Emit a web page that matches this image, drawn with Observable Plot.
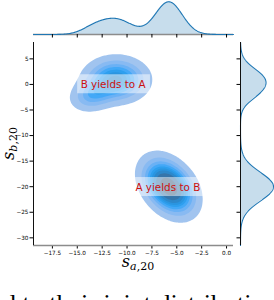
<!DOCTYPE html>
<html><head><meta charset="utf-8">
<script src="https://cdn.jsdelivr.net/npm/d3@7"></script>
<script src="https://cdn.jsdelivr.net/npm/@observablehq/plot@0.6"></script>
<style>
body{margin:0;background:#fff;overflow:hidden}
#wrap{position:relative;width:274px;height:300px;overflow:hidden;background:#fff}
#wrap > svg{position:absolute;left:0;top:0}
</style></head><body>
<div id="wrap"></div>
<script>
// ---- data ----
const clusterNames = ["A", "B1", "B2"];
const meanX = [-5.8, -11.1, -13.4];
const meanY = [-20.0, 0.9, -2.0];
const sdX = [1.35, 1.6, 1.2];
const sdY = [2.8, 2.2, 1.7];
const corr = [-0.35, 0.0, 0.2];
const weight = [1.0, 0.55, 0.15];
const labels = ["A yields to B", "B yields to A"];
const labelX = [-5.9, -11.4];
const labelY = [-20.1, 0.0];
const xDomain = [-19.4, 0.7];
const yDomain = [-31.5, 8.2];
const xTicks = [-17.5, -15, -12.5, -10, -7.5, -5, -2.5, 0];
const yTicks = [-30, -25, -20, -15, -10, -5, 0, 5];
const captionText = "d to their joint distribution";
const nLevels = 10, thresh = 0.05;
const baseColor = "#1f77b4";

// ---- density of the mixture ----
function density(x, y) {
  let s = 0;
  for (let i = 0; i < weight.length; i++) {
    const dx = (x - meanX[i]) / sdX[i], dy = (y - meanY[i]) / sdY[i], r = corr[i];
    const q = (dx*dx - 2*r*dx*dy + dy*dy) / (1 - r*r);
    s += weight[i] * Math.exp(-q/2) / (2*Math.PI*sdX[i]*sdY[i]*Math.sqrt(1 - r*r));
  }
  return s;
}
const norm1 = (v, m, s) => Math.exp(-0.5*((v-m)/s)**2) / (s*Math.sqrt(2*Math.PI));
const margX = x => d3.sum(weight, (w, i) => w * norm1(x, meanX[i], sdX[i]));
const margY = y => d3.sum(weight, (w, i) => w * norm1(y, meanY[i], sdY[i]));

// ---- iso-proportion levels (seaborn style) ----
const vals = [];
for (let i = 0; i < 300; i++) for (let j = 0; j < 300; j++) vals.push(density(-30 + 40*i/299, -45 + 65*j/299));
vals.sort((a, b) => b - a);
const total = d3.sum(vals);
let cum = 0; const cums = vals.map(v => (cum += v) / total);
const isoprop = d3.range(nLevels).map(i => thresh + (1 - thresh) * i / (nLevels - 1));
const levels = isoprop.map(q => vals[Math.min(d3.bisectLeft(cums, 1 - q), vals.length - 1)]);

// ---- HSLuv colormap from base colour ----
const M = [[3.240969941904521,-1.537383177570093,-0.498610760293],[-0.96924363628087,1.87596750150772,0.041555057407175],[0.055630079696993,-0.20397695888897,1.056971514242878]];
const MINV = [[0.41239079926595,0.35758433938387,0.18048078840183],[0.21263900587151,0.71516867876775,0.072192315360733],[0.019330818715591,0.11919477979462,0.95053215224966]];
const REF_U = 0.19783000664283, REF_V = 0.46831999493879, KAPPA = 903.2962962, EPS = 0.0088564516;
function bounds(L) {
  const sub1 = Math.pow(L + 16, 3) / 1560896;
  const sub2 = sub1 > EPS ? sub1 : L / KAPPA;
  const res = [];
  for (const [m1, m2, m3] of M) for (const t of [0, 1]) {
    const top1 = (284517*m1 - 94839*m3) * sub2;
    const top2 = (838422*m3 + 769860*m2 + 731718*m1) * L * sub2 - 769860*t*L;
    const bottom = (632260*m3 - 126452*m2) * sub2 + 126452*t;
    res.push([top1/bottom, top2/bottom]);
  }
  return res;
}
function maxChroma(L, H) {
  const h = H/180*Math.PI; let min = Infinity;
  for (const [s, b] of bounds(L)) { const len = b / (Math.sin(h) - s*Math.cos(h)); if (len >= 0) min = Math.min(min, len); }
  return min;
}
function hsluvToRgb(H, S, L) {
  if (L > 99.9999999) return [1,1,1]; if (L < 1e-8) return [0,0,0];
  const C = maxChroma(L, H) / 100 * S;
  const hr = H/180*Math.PI, U = Math.cos(hr)*C, V = Math.sin(hr)*C;
  const varU = U/(13*L) + REF_U, varV = V/(13*L) + REF_V;
  const Y = L <= 8 ? L / KAPPA : Math.pow((L+16)/116, 3);
  const X = -(9*Y*varU) / ((varU - 4)*varV - varU*varV);
  const Z = (9*Y - 15*varV*Y - varV*X) / (3*varV);
  return M.map(r => { const c = r[0]*X + r[1]*Y + r[2]*Z; const v = c <= 0.0031308 ? 12.92*c : 1.055*Math.pow(c, 1/2.4) - 0.055; return Math.max(0, Math.min(1, v)); });
}
function rgbToHsluv(r, g, b) {
  const lin = [r,g,b].map(c => c > 0.04045 ? Math.pow((c+0.055)/1.055, 2.4) : c/12.92);
  const [X, Y, Z] = MINV.map(row => row[0]*lin[0] + row[1]*lin[1] + row[2]*lin[2]);
  const L = Y <= EPS ? Y*KAPPA : 116*Math.cbrt(Y) - 16;
  const d = X + 15*Y + 3*Z;
  const U = 13*L*(4*X/d - REF_U), V = 13*L*(9*Y/d - REF_V);
  let H = Math.atan2(V, U)*180/Math.PI; if (H < 0) H += 360;
  return [H, Math.hypot(U, V) / maxChroma(L, H) * 100, L];
}
const bc = d3.rgb(baseColor);
const [bh, bs] = rgbToHsluv(bc.r/255, bc.g/255, bc.b/255);
const nx = Math.floor(1.15*256);
const ramp = d3.range(256).map(j => {
  const xx = -1 + 2*j/(nx - 1);
  const [r, g, b] = hsluvToRgb(bh, bs*Math.cos(xx), 35 + 45*j/255);
  return d3.rgb(r*255, g*255, b*255).formatHex();
});
const cmapColors = ramp.slice().reverse();
const cmap = t => cmapColors[Math.max(0, Math.min(255, Math.floor(t*256)))];
const bandLevels = levels.slice(0, nLevels - 1);
const bandColors = bandLevels.map((l, i) => cmap(((l + levels[i+1]) / 2 - levels[0]) / (levels[nLevels-1] - levels[0])));

// ---- main plot ----
const main = Plot.plot({
  width: 274, height: 300,
  marginLeft: 33, marginRight: 41, marginTop: 42, marginBottom: 55,
  x: {domain: xDomain},
  y: {domain: yDomain},
  color: {type: "ordinal", domain: bandLevels, range: bandColors},
  style: {background: "transparent", fontFamily: "DejaVu Sans", fontSize: "5.7px", color: "#000"},
  marks: [
    Plot.contour({value: density, fill: "value", stroke: "none", x1: xDomain[0], x2: xDomain[1], y1: yDomain[0], y2: yDomain[1], thresholds: bandLevels}),
    Plot.axisX({ticks: xTicks, tickSize: 3.5, tickPadding: 1.5, tickFormat: d3.format(".1f"), label: null}),
    Plot.axisY({ticks: yTicks, tickSize: 3.5, tickPadding: 1.5, tickFormat: d3.format("d"), label: null}),
    Plot.ruleY([yDomain[0]], {stroke: "#8c8c8c", strokeWidth: 1.3}),
    Plot.ruleX([xDomain[0]], {stroke: "#111", strokeWidth: 1}),
    Plot.text(labels, {x: (d, i) => labelX[i], y: (d, i) => labelY[i], text: d => d, fill: "#cc1010", fontSize: 10.4, fontFamily: "DejaVu Sans"})
  ]
});

// ---- top marginal ----
const xs = d3.range(401).map(i => xDomain[0] + (xDomain[1] - xDomain[0]) * i / 400);
const topMax = d3.max(xs, margX);
const topM = Plot.plot({
  width: 274, height: 40,
  marginLeft: 33, marginRight: 41, marginTop: 0, marginBottom: 6,
  x: {domain: xDomain},
  y: {domain: [0, topMax * 1.04], axis: null},
  style: {background: "transparent", color: "#000"},
  marks: [
    Plot.areaY(xs, {x: d => d, y: margX, fill: baseColor, fillOpacity: 0.25}),
    Plot.ruleY([0], {stroke: "#8c8c8c", strokeWidth: 1.3}),
    Plot.lineY(xs, {x: d => d, y: margX, stroke: baseColor, strokeWidth: 1.1}),
    Plot.axisX({ticks: xTicks, tickSize: 3.5, tickFormat: () => "", label: null})
  ]
});

// ---- right marginal ----
const ys = d3.range(401).map(i => yDomain[0] + (yDomain[1] - yDomain[0]) * i / 400);
const rightMax = d3.max(ys, margY);
const rightM = Plot.plot({
  width: 274, height: 300,
  marginLeft: 240, marginRight: 0, marginTop: 42, marginBottom: 55,
  x: {domain: [0, rightMax * 1.03], axis: null},
  y: {domain: yDomain},
  style: {background: "transparent", color: "#000"},
  marks: [
    Plot.areaX(ys, {y: d => d, x: margY, fill: baseColor, fillOpacity: 0.25}),
    Plot.lineX(ys, {y: d => d, x: margY, stroke: baseColor, strokeWidth: 1.1}),
    Plot.ruleX([0], {stroke: "#111", strokeWidth: 1}),
    Plot.axisY({ticks: yTicks, tickSize: 3.5, tickFormat: () => "", label: null, anchor: "left"})
  ]
});

const wrap = document.getElementById("wrap");
wrap.appendChild(main);
wrap.appendChild(topM);
wrap.appendChild(rightM);

// label boxes (white, half transparent) behind annotation text
const pad = 3.5;
d3.select(main).selectAll("g[aria-label='text'] text").each(function() {
  const b = this.getBBox();
  const rect = document.createElementNS("http://www.w3.org/2000/svg", "rect");
  rect.setAttribute("x", b.x - pad); rect.setAttribute("y", b.y - pad);
  rect.setAttribute("width", b.width + 2*pad); rect.setAttribute("height", b.height + 2*pad);
  rect.setAttribute("fill", "#fff"); rect.setAttribute("fill-opacity", "0.5"); rect.setAttribute("stroke", "none");
  const t = this.getAttribute("transform"); if (t) rect.setAttribute("transform", t);
  this.parentNode.insertBefore(rect, this);
});

// axis titles (math style)
const xr = main.scale("x").range, yr = main.scale("y").range;
const svg = d3.select(main);
const xl = svg.append("text").attr("x", (xr[0] + xr[1]) / 2 + 5).attr("y", 266.5)
  .attr("text-anchor", "middle").attr("font-family", "DejaVu Serif, serif").attr("fill", "#000");
xl.append("tspan").attr("font-style", "italic").attr("font-size", 16).text("s");
const xs1 = xl.append("tspan").attr("font-size", 11).attr("dy", 3);
xs1.append("tspan").attr("font-style", "italic").text("a");
xs1.append("tspan").text(",20");
const yl = svg.append("text").attr("transform", `translate(14,${(yr[0] + yr[1]) / 2}) rotate(-90)`)
  .attr("text-anchor", "middle").attr("font-family", "DejaVu Serif, serif").attr("fill", "#000");
yl.append("tspan").attr("font-style", "italic").attr("font-size", 16).text("s");
const ys1 = yl.append("tspan").attr("font-size", 11).attr("dy", 3);
ys1.append("tspan").attr("font-style", "italic").text("b");
ys1.append("tspan").text(",20");

// cropped body text below the figure (only its top is visible, as in the reference)
svg.append("text").attr("x", 3).attr("y", 311.5).attr("text-anchor", "start")
  .attr("font-family", "Liberation Serif, serif")
  .attr("font-size", 26).attr("fill", "#000").text(captionText);
</script>
</body></html>
